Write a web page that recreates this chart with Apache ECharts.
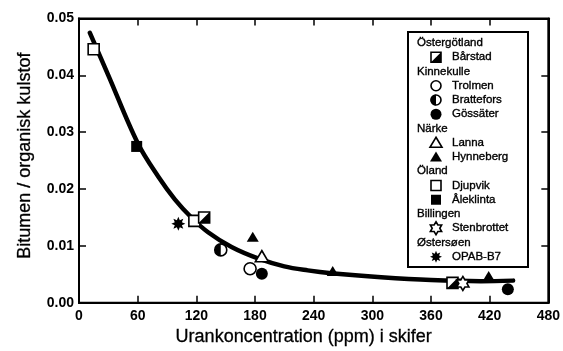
<!DOCTYPE html>
<html><head><meta charset="utf-8">
<script src="https://cdn.jsdelivr.net/npm/echarts@6/dist/echarts.min.js"></script>
<style>html,body{margin:0;padding:0;background:#fff}#c{width:563px;height:351px}</style>
</head><body><div id="c"></div>
<script>
// ---- data ----
const xTickLabels = ['0','60','120','180','240','300','360','420','480'];
const yTickLabels = ['0.00','0.01','0.02','0.03','0.04','0.05'];
const xTitle = 'Urankoncentration (ppm) i skifer';
const yTitle = 'Bitumen / organisk kulstof';

const barstad     = [[128, 0.0150], [382, 0.0035]];
const trolmen     = [[175, 0.0060]];
const brattefors  = [[145, 0.0093]];
const gossater    = [[187, 0.0051], [438.6, 0.0024]];
const lanna       = [[187, 0.0082]];
const hynneberg   = [[177.7, 0.0116], [259.5, 0.0056], [419, 0.0047]];
const djupvik     = [[15, 0.0446], [118, 0.0144]];
const aleklinta   = [[59, 0.0275]];
const stenbrottet = [[392.6, 0.0034]];
const opab        = [[101.6, 0.0139]];
const fitCurve = [[11,0.0475],[30,0.0400],[60,0.0281],[81,0.0222],[98,0.0182],[115,0.0150],[132,0.0124],
  [156,0.0098],[183,0.0078],[210,0.0064],[234,0.0057],[258,0.0052],[309,0.0045],[360,0.0040],[411,0.0038],[444,0.0039]];

const legendGroups = [
  {header:'Östergötland', items:[['Bårstad','halfsq']]},
  {header:'Kinnekulle', items:[['Trolmen','ocircle'],['Brattefors','halfcircle'],['Gössäter','fcircle']]},
  {header:'Närke', items:[['Lanna','otri'],['Hynneberg','ftri']]},
  {header:'Öland', items:[['Djupvik','osq'],['Åleklinta','fsq']]},
  {header:'Billingen', items:[['Stenbrottet','ostar']]},
  {header:'Østersøen', items:[['OPAB-B7','fstar']]}
];

// ---- helpers ----
const FF = '"Liberation Sans", Arial, Helvetica, sans-serif';
function starPts(n, ri, R) {
  const p = [];
  for (let i = 0; i < 2*n; i++) {
    const r = (i % 2) ? ri*R : R;
    const a = -Math.PI/2 + i*Math.PI/n;
    p.push([r*Math.cos(a), r*Math.sin(a)]);
  }
  return p;
}
function starPath(n, ri) {
  const p = starPts(n, ri, 50);
  return 'path://' + p.map((q,i)=>(i?'L':'M')+(q[0]+50).toFixed(2)+','+(q[1]+50).toFixed(2)).join('') + 'Z';
}
const hexStar = starPath(6, 0.58);
const octStar = starPath(8, 0.55);

const open = {color:'#fff', borderColor:'#000', borderWidth:1.6, opacity:1};
const fill = {color:'#000', opacity:1};
function sc(name, data, symbol, size, style, extra) {
  return Object.assign({type:'scatter', name, data, symbol, symbolSize:size, itemStyle:style, z:5, silent:true}, extra||{});
}
const series = [
  {type:'line', data: fitCurve, smooth:0.35, showSymbol:false, symbol:'none',
   lineStyle:{color:'#000', width:4.5, cap:'round'}, z:2, silent:true},
  sc('Djupvik', djupvik, 'rect', 11, open),
  sc('Åleklinta', aleklinta, 'rect', 11, fill),
  sc('Bårstad', barstad, 'rect', 11, open),
  sc('Bårstad-fill', barstad, 'path://M10,0L10,10L0,10Z', 11, fill, {z:6}),
  sc('Trolmen', trolmen, 'circle', 12, open),
  sc('Brattefors', brattefors, 'circle', 12, open),
  sc('Brattefors-fill', brattefors, 'path://M10,0A10,10 0 0 0 10,20Z', [6,12], fill, {z:6, symbolOffset:[-3,0]}),
  sc('Gössäter', gossater, 'circle', 12, fill),
  sc('Lanna', lanna, 'triangle', [13,11], open),
  sc('Hynneberg', hynneberg, 'triangle', [12,10], fill),
  sc('Stenbrottet', stenbrottet, hexStar, 14, open, {symbolKeepAspect:true}),
  sc('OPAB-B7', opab, octStar, 14, fill, {symbolKeepAspect:true})
];

// ---- legend built as graphic ----
const LX = 408, LY = 32, LW = 120, LH = 235;
const rowH = 14.25, firstY = 43, hdrX = 417, symX = 436, lblX = 452;
const g = [{type:'rect', shape:{x:LX, y:LY, width:LW, height:LH}, style:{fill:'#fff', stroke:'#000', lineWidth:2}, z:10}];
function txt(x, y, s) {
  return {type:'text', x, y, style:{text:s, fill:'#000', font:'11.5px ' + FF, textVerticalAlign:'middle', textAlign:'left', stroke:'#000', lineWidth:0.35}, z:11};
}
function sym(kind, cx, cy) {
  const os = {fill:'#fff', stroke:'#000', lineWidth:1.6};
  const fs = {fill:'#000'};
  switch(kind) {
    case 'halfsq': return [
      {type:'rect', shape:{x:cx-5, y:cy-5, width:10, height:10}, style:os, z:11},
      {type:'polygon', shape:{points:[[cx+5,cy-5],[cx+5,cy+5],[cx-5,cy+5]]}, style:fs, z:12}];
    case 'ocircle': return [{type:'circle', shape:{cx, cy, r:5}, style:os, z:11}];
    case 'fcircle': return [{type:'circle', shape:{cx, cy, r:5.5}, style:fs, z:11}];
    case 'halfcircle': return [
      {type:'circle', shape:{cx, cy, r:5}, style:os, z:11},
      {type:'sector', shape:{cx, cy, r:5.5, r0:0, startAngle:Math.PI/2, endAngle:3*Math.PI/2, clockwise:true}, style:fs, z:12}];
    case 'otri': return [{type:'polygon', shape:{points:[[cx,cy-5.5],[cx+6,cy+4.5],[cx-6,cy+4.5]]}, style:os, z:11}];
    case 'ftri': return [{type:'polygon', shape:{points:[[cx,cy-5.5],[cx+6,cy+4.5],[cx-6,cy+4.5]]}, style:fs, z:11}];
    case 'osq': return [{type:'rect', shape:{x:cx-5, y:cy-5, width:10, height:10}, style:os, z:11}];
    case 'fsq': return [{type:'rect', shape:{x:cx-5, y:cy-5, width:10, height:10}, style:fs, z:11}];
    case 'ostar': return [{type:'polygon', shape:{points:starPts(6,0.58,6.5).map(p=>[p[0]+cx,p[1]+cy])}, style:os, z:11}];
    case 'fstar': return [{type:'polygon', shape:{points:starPts(8,0.55,6).map(p=>[p[0]+cx,p[1]+cy])}, style:fs, z:11}];
  }
  return [];
}
let row = 0;
legendGroups.forEach(gr => {
  g.push(txt(hdrX, firstY + row*rowH, gr.header)); row++;
  gr.items.forEach(it => {
    const y = firstY + row*rowH;
    sym(it[1], symX, y).forEach(e => g.push(e));
    g.push(txt(lblX, y, it[0])); row++;
  });
});

const axisCommon = {
  type:'value',
  axisLine:{show:true, onZero:false, lineStyle:{color:'#000', width:2}},
  axisTick:{show:true, inside:true, length:7, lineStyle:{color:'#000', width:1.5}},
  splitLine:{show:false}
};
const titleStyle = {color:'#000', fontSize:18, fontFamily:FF, textBorderColor:'#000', textBorderWidth:0.3};
const chart = echarts.init(document.getElementById('c'), null, {renderer:'canvas'});
chart.setOption({
  animation:false,
  backgroundColor:'#fff',
  grid:{left:79, right:13, top:18.5, bottom:42.3, show:true, borderColor:'#000', borderWidth:2, backgroundColor:'transparent'},
  xAxis:[
    Object.assign({}, axisCommon, {min:0, max:480, interval:60, position:'bottom',
      axisLabel:{color:'#000', fontSize:14, fontWeight:'bold', fontFamily:FF, margin:6, formatter:(v)=>xTickLabels[Math.round(v/60)]},
      name:xTitle, nameLocation:'middle', nameGap:23,
      nameTextStyle:Object.assign({}, titleStyle, {padding:[0,20,0,0]})}),
    Object.assign({}, axisCommon, {min:0, max:480, interval:60, position:'top', axisLabel:{show:false}})
  ],
  yAxis:[
    Object.assign({}, axisCommon, {min:0, max:0.05, interval:0.01, position:'left',
      axisLabel:{color:'#000', fontSize:14, fontWeight:'bold', fontFamily:FF, margin:5, formatter:(v)=>yTickLabels[Math.round(v/0.01)]},
      name:yTitle, nameLocation:'middle', nameGap:45,
      nameTextStyle:Object.assign({}, titleStyle, {padding:[0,0,0,10]})}),
    Object.assign({}, axisCommon, {min:0, max:0.05, interval:0.01, position:'right', axisLabel:{show:false}})
  ],
  series,
  graphic:g
});
</script></body></html>
